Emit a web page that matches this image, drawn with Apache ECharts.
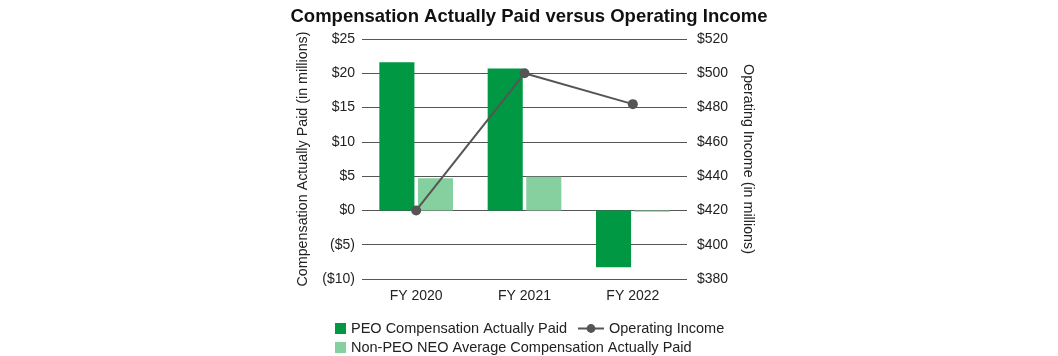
<!DOCTYPE html>
<html><head><meta charset="utf-8">
<script src="https://cdn.jsdelivr.net/npm/echarts@6/dist/echarts.min.js"></script>
<style>html,body{margin:0;padding:0;background:#fff}#c{width:1058px;height:356px}</style>
</head><body><div id="c"></div>
<script>
const categories = ['FY 2020', 'FY 2021', 'FY 2022'];
const peoCap = [21.6, 20.7, -8.3];
const neoCap = [4.7, 4.9, -0.2];
const operatingIncome = [420, 500, 482];
const leftTicks = [-10, 25, 5];
const rightTicks = [380, 520, 20];

const FONT = 'Liberation Sans, Arial, Helvetica, sans-serif';
const TXT = '#222';
const money = v => v < 0 ? '($' + Math.abs(v) + ')' : '$' + v;
const legendText = { fontFamily: FONT, fontSize: 14.5, color: TXT };
const chart = echarts.init(document.getElementById('c'));
chart.setOption({
  animation: false,
  textStyle: { fontFamily: FONT, color: TXT },
  title: {
    text: 'Compensation Actually Paid versus Operating Income',
    left: 'center', top: 2,
    textStyle: { fontFamily: FONT, fontSize: 18.5, fontWeight: 'bold', color: '#111' }
  },
  legend: [
    { data: ['PEO Compensation Actually Paid'], left: 335, top: 321, itemWidth: 11, itemHeight: 11,
      icon: 'rect', textStyle: legendText, padding: 0 },
    { data: ['Operating Income'], left: 577, top: 321, itemWidth: 26, itemHeight: 11,
      textStyle: legendText, padding: 0 },
    { data: ['Non-PEO NEO Average Compensation Actually Paid'], left: 335, top: 340, itemWidth: 11, itemHeight: 11,
      icon: 'rect', textStyle: legendText, padding: 0 }
  ],
  grid: { left: 362, right: 371, top: 39, bottom: 77 },
  xAxis: {
    type: 'category', data: categories,
    axisLine: { show: false }, axisTick: { show: false },
    axisLabel: { fontFamily: FONT, fontSize: 14, color: TXT, margin: 10 }
  },
  yAxis: [
    { type: 'value', min: leftTicks[0], max: leftTicks[1], interval: leftTicks[2],
      name: 'Compensation Actually Paid (in millions)', nameLocation: 'middle', nameGap: 52,
      nameTextStyle: { fontFamily: FONT, fontSize: 14.3, color: TXT },
      axisLabel: { formatter: money, fontFamily: FONT, fontSize: 14, color: TXT, margin: 7 },
      splitLine: { lineStyle: { color: '#555', width: 1 } },
      axisLine: { show: false }, axisTick: { show: false } },
    { type: 'value', min: rightTicks[0], max: rightTicks[1], interval: rightTicks[2], position: 'right',
      name: 'Operating Income (in millions)', nameLocation: 'middle', nameGap: 54, nameRotate: -90,
      nameTextStyle: { fontFamily: FONT, fontSize: 14.3, color: TXT },
      axisLabel: { formatter: v => '$' + v, fontFamily: FONT, fontSize: 14, color: TXT, margin: 10 },
      splitLine: { show: false }, axisLine: { show: false }, axisTick: { show: false } }
  ],
  series: [
    { name: 'PEO Compensation Actually Paid', type: 'bar', data: peoCap, yAxisIndex: 0,
      itemStyle: { color: '#009842' }, barGap: '10%', barCategoryGap: '32%' },
    { name: 'Non-PEO NEO Average Compensation Actually Paid', type: 'bar', data: neoCap, yAxisIndex: 0,
      itemStyle: { color: '#86d0a0' } },
    { name: 'Operating Income', type: 'line', data: operatingIncome, yAxisIndex: 1,
      symbol: 'circle', symbolSize: 10, lineStyle: { color: '#555', width: 2 }, itemStyle: { color: '#555' } }
  ]
});
</script></body></html>
